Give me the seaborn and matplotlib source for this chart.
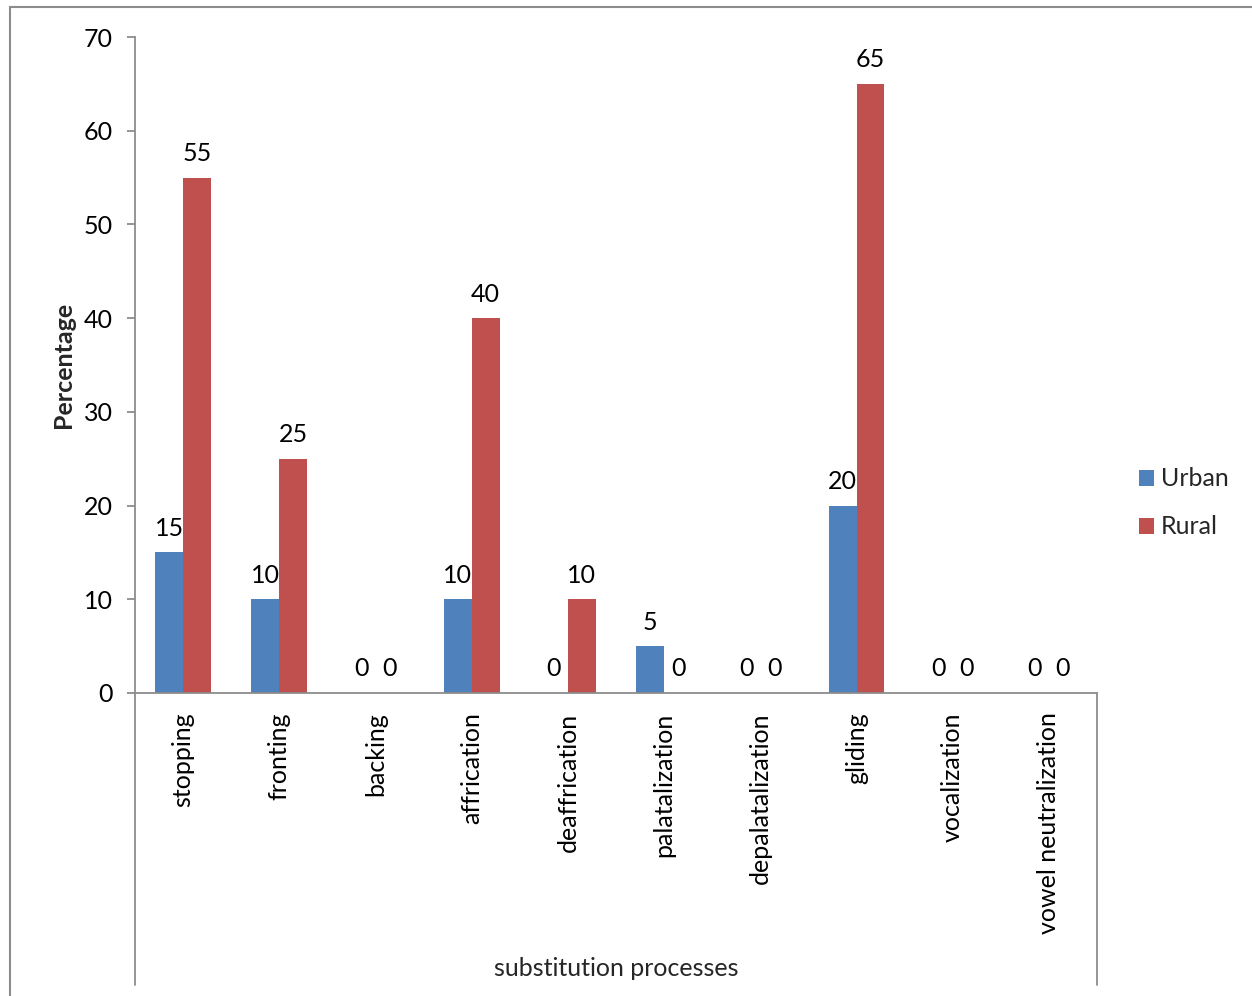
import matplotlib
matplotlib.use("Agg")
import matplotlib.pyplot as plt
import matplotlib.patches as mpatches
import pandas as pd
import seaborn as sns

# Share of children (%) showing each substitution process, by area
processes = ["stopping", "fronting", "backing", "affrication", "deaffrication",
             "palatalization", "depalatalization", "gliding", "vocalization",
             "vowel neutralization"]
urban = [15, 10, 0, 10, 0, 5, 0, 20, 0, 0]
rural = [55, 25, 0, 40, 10, 0, 0, 65, 0, 0]
groups = ["Urban", "Rural"]
colors = {"Urban": "#4F81BD", "Rural": "#C0504D"}
yticks = [0, 10, 20, 30, 40, 50, 60, 70]

df = pd.DataFrame({
    "process": processes * 2,
    "group": ["Urban"] * len(processes) + ["Rural"] * len(processes),
    "value": urban + rural,
})

sns.set_theme(style="white")
plt.rcParams["font.family"] = ["Lato", "DejaVu Sans"]
FS = 18

W, H = 1252, 996
fig = plt.figure(figsize=(W / 100, H / 100), dpi=100)
ax = fig.add_axes([135 / W, 1 - 693 / H, (1097 - 135) / W, (693 - 37) / H])

sns.barplot(data=df, x="process", y="value", hue="group", hue_order=groups,
            palette=colors, width=0.58, gap=0, linewidth=0, saturation=1,
            legend=False, ax=ax, order=processes)

for cont in ax.containers:
    ax.bar_label(cont, fmt="%g", padding=9, fontsize=FS, color="black")

axis_grey = "#8C8C8C"
ax.set_ylim(0, 70)
ax.set_yticks(yticks)
ax.set_xlim(-0.5, len(processes) - 0.5)
for s in ["top", "right"]:
    ax.spines[s].set_visible(False)
for s in ["left", "bottom"]:
    ax.spines[s].set_color(axis_grey)
    ax.spines[s].set_linewidth(1.3)

ax.tick_params(axis="y", which="both", left=True, length=6, width=1.3,
               color=axis_grey, labelsize=FS, pad=10, labelcolor="black")
ax.tick_params(axis="x", bottom=False, labelsize=FS, pad=8, labelcolor="black")
ax.set_xticks(range(len(processes)))
ax.set_xticklabels(processes, rotation=90, ha="center", va="top")

ax.set_ylabel("Percentage", fontsize=FS, fontweight="bold", labelpad=6)
ax.set_xlabel("")

# Category-axis box lines extending below the plot
ybot = (693 - 985) / (693 - 37)
ax.plot([0, 0], [0, ybot], transform=ax.transAxes, color=axis_grey, lw=1.3,
        clip_on=False)
ax.plot([1, 1], [0, ybot], transform=ax.transAxes, color=axis_grey, lw=1.3,
        clip_on=False)
ax.text(0.5, (693 - 968) / (693 - 37), "substitution processes",
        transform=ax.transAxes, ha="center", va="center", fontsize=FS)

# Chart frame
fig.add_artist(mpatches.Rectangle((10 / W, -0.1), 1.2, 1 - 7 / H + 0.1,
                                  transform=fig.transFigure, fill=False,
                                  edgecolor="#8C8C8C", lw=1.5))

handles = [mpatches.Patch(facecolor=colors[g], edgecolor="none", label=g)
           for g in groups]
fig.legend(handles=handles, loc="center left",
           bbox_to_anchor=(1116 / W, 1 - 503 / H), frameon=False,
           fontsize=FS, handlelength=0.6, handleheight=0.6,
           handletextpad=0.3, labelspacing=1.0)

fig.savefig("out.png", dpi=100, facecolor="white")
